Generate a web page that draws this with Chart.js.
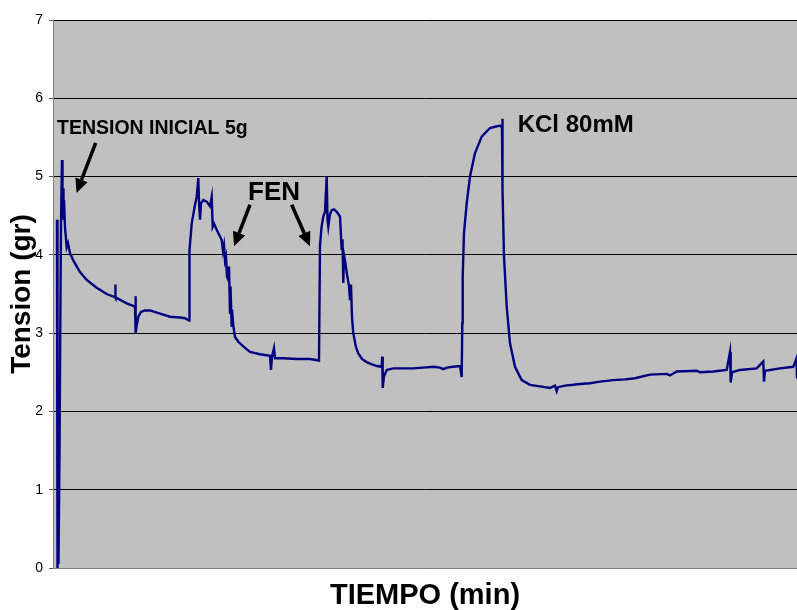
<!DOCTYPE html>
<html>
<head>
<meta charset="utf-8">
<script src="https://cdn.jsdelivr.net/npm/chart.js@4"></script>
<style>
html,body{margin:0;padding:0;background:#fff;}
#c{display:block;}
</style>
</head>
<body>
<canvas id="c" width="797" height="610"></canvas>
<script>
// ---- Data (time in arbitrary units, tension in g) ----
const tiempo = [
  4,4.5,5,5.5,6.5,7.5,8,9,9.5,10,10.5,11,12,13.7,15,17,20.3,23,27,33.7,43.7,53.7,
  62,62.3,62.6,63.7,73.7,82,82.5,82.8,83.5,85.3,88,92,97,107,117,127,132,136,
  136.5,138.7,142,143.7,145.3,146,147,148,150.3,153.7,157,158.7,159.7,161,163.7,166,168.7,
  170,171,172,173,174,175.3,176,177,177.5,178.7,179,180.3,182,185.3,190.3,197,207,217,
  218,219,221,222,230.3,243.7,257,266,
  267,268.5,270.3,272,273.7,274.5,275.3,277,278.7,281,283.7,287,288.7,289.5,290.3,291,292,
  294,296,297,298,299,300.3,303,305.3,309,313.7,319,324,328.7,329.2,329.7,331,333.7,
  340.3,350,360.3,370,380.3,387,390.3,394,400,407,408.7,
  409.3,409.7,411,413.7,417,422,428.7,437,443,447,449,449.3,449.7,451,453.7,457,462,
  468.7,477,487,497,502,503.7,505,512,520.3,527,537,547,560.3,572,580.3,587,597,
  613.7,617,623.7,643.7,647,660.3,673.7,677,677.7,679,687,703.7,710.3,711,712,727,
  740.3,743.5,744
];
const tension = [
  4.45,0.0,0.9,0.05,1.48,3.5,4.4,5.21,4.55,4.85,4.45,4.7,4.35,4.10,4.15,4.02,3.93,3.87,3.78,3.68,3.58,3.50,
  3.46,3.62,3.45,3.45,3.38,3.34,3.47,3.0,3.08,3.21,3.27,3.29,3.29,3.25,3.21,3.20,3.19,3.16,
  4.06,4.40,4.64,4.74,4.98,4.68,4.45,4.66,4.70,4.68,4.62,4.74,4.36,4.40,4.32,4.26,4.19,
  4.05,4.12,3.93,3.98,3.72,3.68,3.85,3.26,3.6,3.08,3.3,3.1,2.95,2.89,2.83,2.76,2.73,2.71,
  2.53,2.70,2.81,2.68,2.68,2.67,2.67,2.65,
  4.12,4.35,4.49,4.55,5.0,4.45,4.36,4.52,4.57,4.58,4.55,4.49,4.06,4.2,3.64,4.0,3.93,
  3.75,3.6,3.42,3.62,3.2,3.0,2.82,2.74,2.67,2.63,2.60,2.58,2.57,2.70,2.30,2.45,2.53,
  2.55,2.55,2.55,2.56,2.57,2.56,2.54,2.56,2.57,2.58,2.44,
  3.13,3.72,4.28,4.66,5.0,5.30,5.51,5.62,5.64,5.65,5.63,5.74,4.83,3.98,3.34,2.87,2.57,
  2.40,2.34,2.32,2.30,2.33,2.26,2.31,2.33,2.34,2.35,2.36,2.38,2.40,2.41,2.42,2.44,2.47,
  2.48,2.46,2.51,2.52,2.50,2.51,2.53,2.76,2.37,2.50,2.53,2.55,2.64,2.38,2.52,2.55,
  2.57,2.68,2.42
];
const yTicks = [0,1,2,3,4,5,6,7];
const xTitle = 'TIEMPO (min)';
const yTitle = 'Tension (gr)';

// annotation texts & arrows, in data coordinates
const notes = [
  {text:'TENSION INICIAL 5g', x:4, y:5.55, size:19.5, align:'left'},
  {text:'FEN', x:221, y:4.70, size:26, align:'center'},
  {text:'KCl 80mM', x:464.7, y:5.57, size:24, align:'left'}
];
const arrows = [
  {from:[42.7,5.43], to:[23.5,4.79]},
  {from:[197,4.64], to:[181,4.11]},
  {from:[238.7,4.64], to:[257,4.11]}
];

const FONT = "'Liberation Sans', Arial, Helvetica, sans-serif";

const plotBg = {
  id:'plotBg',
  beforeDraw(chart){
    const {ctx, chartArea:a} = chart;
    ctx.save();
    ctx.fillStyle = '#c0c0c0';
    ctx.fillRect(a.left, a.top, a.right-a.left, a.bottom-a.top);
    ctx.restore();
  }
};

const annot = {
  id:'annot',
  afterDatasetsDraw(chart){
    const {ctx, scales:{x, y}} = chart;
    ctx.save();
    ctx.fillStyle = '#000';
    ctx.strokeStyle = '#000';
    for (const n of notes){
      ctx.font = 'bold ' + n.size + 'px ' + FONT;
      ctx.textAlign = n.align;
      ctx.textBaseline = 'alphabetic';
      ctx.fillText(n.text, x.getPixelForValue(n.x), y.getPixelForValue(n.y));
    }
    for (const a of arrows){
      const x0 = x.getPixelForValue(a.from[0]), y0 = y.getPixelForValue(a.from[1]);
      const x1 = x.getPixelForValue(a.to[0]), y1 = y.getPixelForValue(a.to[1]);
      const ang = Math.atan2(y1-y0, x1-x0);
      const head = 14, hw = 6.5;
      const bx = x1 - head*Math.cos(ang), by = y1 - head*Math.sin(ang);
      ctx.lineWidth = 3.5;
      ctx.lineCap = 'butt';
      ctx.beginPath();
      ctx.moveTo(x0, y0);
      ctx.lineTo(bx, by);
      ctx.stroke();
      ctx.beginPath();
      ctx.moveTo(x1, y1);
      ctx.lineTo(bx + hw*Math.sin(ang), by - hw*Math.cos(ang));
      ctx.lineTo(bx - hw*Math.sin(ang), by + hw*Math.cos(ang));
      ctx.closePath();
      ctx.fill();
    }
    ctx.restore();
  }
};

new Chart(document.getElementById('c'), {
  type:'line',
  data:{
    datasets:[{
      data: tiempo.map((t,i)=>({x:t, y:tension[i]})),
      borderColor:'#000080',
      borderWidth:2.4,
      pointRadius:0,
      tension:0,
      fill:false
    }]
  },
  options:{
    responsive:false,
    animation:false,
    events:[],
    layout:{padding:{left:0,right:0,top:20,bottom:0}},
    plugins:{legend:{display:false}, tooltip:{enabled:false}},
    scales:{
      x:{
        type:'linear', min:0, max:744,
        grid:{display:false},
        border:{display:true, color:'#808080', width:1},
        ticks:{display:false},
        title:{display:true, text:xTitle, color:'#000',
               font:{family:FONT, size:29, weight:'bold', lineHeight:1}, padding:0},
        afterFit(s){ s.height = 42; }
      },
      y:{
        min:0, max:7,
        afterBuildTicks(s){ s.ticks = yTicks.map(v=>({value:v})); },
        grid:{color:'#000', lineWidth:1, tickLength:4, tickColor:'#555'},
        border:{display:true, color:'#808080', width:1},
        ticks:{color:'#000', font:{family:FONT, size:14}, padding:6},
        title:{display:true, text:yTitle, color:'#000',
               font:{family:FONT, size:28, weight:'bold', lineHeight:1}, padding:{top:8,bottom:0}},
        afterFit(s){ s.width = 53; }
      }
    }
  },
  plugins:[plotBg, annot]
});
</script>
</body>
</html>
